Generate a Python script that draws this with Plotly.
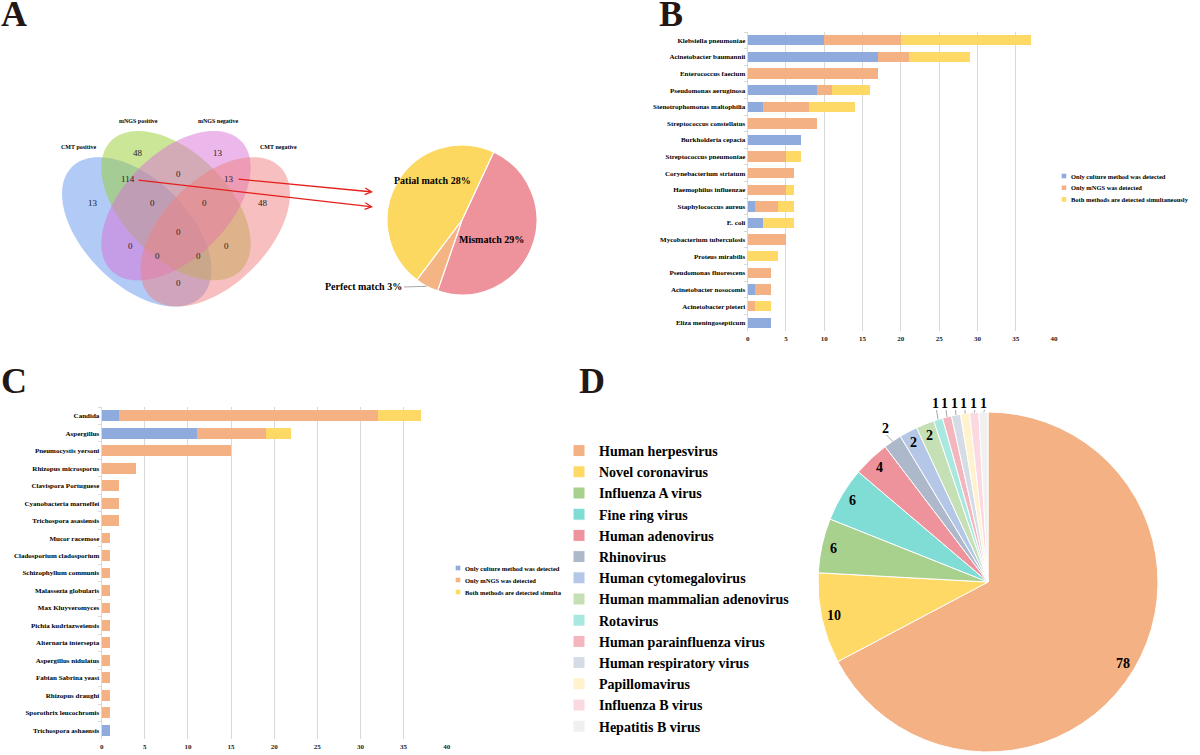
import numpy as np
import plotly.graph_objects as go

W, H = 1200, 755
SERIF = "Liberation Serif"
BLUE, ORANGE, YELLOW = "#8FAADC", "#F4B183", "#FFD966"
GRID = "#D9D9D9"
INK = "#231815"

# ---- A: venn + match pie ----
venn_sets = ["CMT positive", "mNGS positive", "mNGS negative", "CMT negative"]
venn_counts = [13, 48, 13, 48, 114, 0, 13, 0, 0, 0, 0, 0, 0, 0, 0]
match_labels = ["Mismatch", "Perfect match", "Patial match"]
match_values = [29, 3, 28]

# ---- B: bacteria ----
series_names = ["Only culture method was detected", "Only mNGS was detected",
                "Both methods are detected simultaneously"]
bac_names = ["Klebsiella pneumoniae", "Acinetobacter baumannii", "Enterococcus faecium",
             "Pseudomonas aeruginosa", "Stenotrophomonas maltophilia", "Streptococcus constellatus",
             "Burkholderia cepacia", "Streptococcus pneumoniae", "Corynebacterium striatum",
             "Haemophilus influenzae", "Staphylococcus aureus", "E. coli",
             "Mycobacterium tuberculosis", "Proteus mirabilis", "Pseudomonas fluorescens",
             "Acinetobacter nosocomis", "Acinetobacter pieteri", "Eliza meningosepticum"]
bac_culture = [10, 17, 0, 9, 2, 0, 7, 0, 0, 0, 1, 2, 0, 0, 0, 1, 0, 3]
bac_mngs = [10, 4, 17, 2, 6, 9, 0, 5, 6, 5, 3, 0, 5, 0, 3, 2, 1, 0]
bac_both = [17, 8, 0, 5, 6, 0, 0, 2, 0, 1, 2, 4, 0, 4, 0, 0, 2, 0]

# ---- C: fungi ----
fungi_legend = ["Only culture method was detected", "Only mNGS was detected",
                "Both methods are detected simulta"]
fungi_names = ["Candida", "Aspergillus", "Pneumocystis yersoni", "Rhizopus microsporus",
               "Clavispora Portuguese", "Cyanobacteria marneffei", "Trichospora asasiensis",
               "Mucor racemose", "Cladosporium cladosporium", "Schizophyllum communis",
               "Malassezia globularis", "Max Kluyveromyces", "Pichia kudriazweiensis",
               "Alternaria intersepta", "Aspergillus nidulatus", "Fabian Sabrina yeast",
               "Rhizopus draughi", "Sporothrix leucochromis", "Trichospora ashaensis"]
fungi_culture = [2, 11, 0, 0, 0, 0, 0, 0, 0, 0, 0, 0, 0, 0, 0, 0, 0, 0, 1]
fungi_mngs = [30, 8, 15, 4, 2, 2, 2, 1, 1, 1, 1, 1, 1, 1, 1, 1, 1, 1, 0]
fungi_both = [5, 3, 0, 0, 0, 0, 0, 0, 0, 0, 0, 0, 0, 0, 0, 0, 0, 0, 0]

# ---- D: viruses ----
virus_names = ["Human herpesvirus", "Novel coronavirus", "Influenza A virus", "Fine ring virus",
               "Human adenovirus", "Rhinovirus", "Human cytomegalovirus",
               "Human mammalian adenovirus", "Rotavirus", "Human parainfluenza virus",
               "Human respiratory virus", "Papillomavirus", "Influenza B virus", "Hepatitis B virus"]
virus_counts = [78, 10, 6, 6, 4, 2, 2, 2, 1, 1, 1, 1, 1, 1]
virus_colors = ["#F4B183", "#FFD966", "#A9D18E", "#7FDDD6", "#EE929C", "#ADB9CA", "#B4C7E7",
                "#C5E0B4", "#A8E8E0", "#F4B6BE", "#D6DCE5", "#FFF2CC", "#FADAE0", "#F0F0F0"]


def px(x):
    return x / W


def py(y):
    return 1 - y / H


def ellipse_path(cx, cy, a, b, ang_deg, n=120):
    t = np.linspace(0, 2 * np.pi, n)
    r = np.radians(ang_deg)
    xs = cx + a * np.cos(t) * np.cos(r) - b * np.sin(t) * np.sin(r)
    ys = cy + a * np.cos(t) * np.sin(r) + b * np.sin(t) * np.cos(r)
    return "M " + " L ".join(f"{x:.4f},{y:.4f}" for x, y in zip(xs, ys)) + " Z"


def bold(size, color="black"):
    return dict(family=SERIF, size=size, color=color, weight="bold")


def note(x, y, text, font, xanchor="center"):
    # annotation placed in page pixels (explicit anchors, "auto" shifts paper annotations)
    return dict(x=px(x), y=py(y), xref="paper", yref="paper", text=text, font=font,
                xanchor=xanchor, yanchor="middle", showarrow=False)


fig = go.Figure()

# stacked bars, B and C
for vals, col, nm in zip([bac_culture, bac_mngs, bac_both], [BLUE, ORANGE, YELLOW], series_names):
    fig.add_trace(go.Bar(y=bac_names, x=vals, orientation="h", name=nm, showlegend=False,
                         marker=dict(color=col, line=dict(width=0)), xaxis="x", yaxis="y"))
for vals, col, nm in zip([fungi_culture, fungi_mngs, fungi_both], [BLUE, ORANGE, YELLOW], fungi_legend):
    fig.add_trace(go.Bar(y=fungi_names, x=vals, orientation="h", name=nm, showlegend=False,
                         marker=dict(color=col, line=dict(width=0)), xaxis="x2", yaxis="y2"))

# pie A
A_cx, A_cy, A_r, A_rot = 462, 220, 75, 25
fig.add_trace(go.Pie(labels=match_labels, values=match_values, sort=False, direction="clockwise",
                     rotation=A_rot, textinfo="none", showlegend=False,
                     marker=dict(colors=["#EE929B", "#F4B483", "#FDD860"], line=dict(color="white", width=1.2)),
                     domain=dict(x=[px(A_cx - A_r), px(A_cx + A_r)], y=[py(A_cy + A_r), py(A_cy - A_r)])))

# pie D
D_cx, D_cy, D_r = 988, 582, 170
fig.add_trace(go.Pie(labels=virus_names, values=virus_counts, sort=False, direction="clockwise",
                     rotation=0, textinfo="none", showlegend=True,
                     marker=dict(colors=virus_colors, line=dict(color="white", width=1)),
                     domain=dict(x=[px(D_cx - D_r), px(D_cx + D_r)], y=[py(D_cy + D_r), py(D_cy - D_r)])))

axis_x = dict(range=[0, 40], dtick=5, showgrid=True, gridcolor=GRID, gridwidth=1, zeroline=True,
              zerolinecolor=GRID, zerolinewidth=1, showline=False, ticks="", ticklabelstandoff=2,
              tickfont=bold(7, "#222"), fixedrange=True)
axis_y = dict(type="category", autorange="reversed", showgrid=False, zeroline=False, showline=True,
              linecolor=GRID, ticks="outside", tickson="boundaries", ticklen=3, tickcolor=GRID,
              tickfont=bold(7), fixedrange=True)

shapes = []
annotations = []

# venn ellipses
venn_fills = ["rgba(100,149,237,0.5)", "rgba(154,205,50,0.5)", "rgba(218,112,214,0.5)", "rgba(240,128,128,0.5)"]
venn_geom = [(0.35, 0.47, -45), (0.5, 0.57, -45), (0.5, 0.57, 45), (0.65, 0.47, 45)]
for (cx, cy, ang), fc in zip(venn_geom, venn_fills):
    shapes.append(dict(type="path", xref="x3", yref="y3", path=ellipse_path(cx, cy, 0.35, 0.2, ang),
                       fillcolor=fc, line=dict(width=0)))

venn_set_pos = [(78, 147), (138, 121), (218, 121), (278, 147)]
for name, (x, y) in zip(venn_sets, venn_set_pos):
    annotations.append(note(x, y, name, bold(6)))

venn_pos = [(93, 203), (138, 153), (218, 153), (263, 203), (128, 179), (178, 174), (229, 179),
            (152, 203), (204, 203), (178, 232), (130, 246), (226, 246), (158, 256), (198, 256),
            (178, 283)]
for v, (x, y) in zip(venn_counts, venn_pos):
    annotations.append(note(x, y, str(v), dict(family=SERIF, size=9, color="#222")))

# red arrows from venn to pie
for (tx, ty), (hx, hy) in [((237, 179), (373, 192)), ((137, 180), (373, 207))]:
    annotations.append(dict(x=px(hx), y=py(hy), xref="paper", yref="paper", ax=tx - hx, ay=ty - hy,
                            text="", showarrow=True, arrowhead=5, arrowsize=1, arrowwidth=1.3,
                            arrowcolor="#E3201B", standoff=0))

# pie A labels
match_text_pos = {"Patial match": (432, 181), "Mismatch": (491, 239), "Perfect match": (363, 286)}
cum = np.cumsum([0] + match_values[:-1])
tot = sum(match_values)
for lab, val, c0 in zip(match_labels, match_values, cum):
    x, y = match_text_pos[lab]
    annotations.append(note(x, y, f"{lab} {val}%", bold(10)))
    if lab == "Perfect match":
        mid = np.radians(A_rot + (c0 + val / 2) / tot * 360)
        rx, ry = A_cx + A_r * np.sin(mid), A_cy - A_r * np.cos(mid)
        shapes.append(dict(type="line", xref="paper", yref="paper", x0=px(404), y0=py(y + 1),
                           x1=px(rx), y1=py(ry), line=dict(color="#A6A6A6", width=1)))

# pie D labels
vcum = np.cumsum([0] + virus_counts[:-1])
vtot = sum(virus_counts)
outside_pos = {5: (885, 428), 8: (935, 403), 9: (944.5, 403), 10: (954, 403), 11: (963.5, 403),
               12: (973.5, 403), 13: (983.5, 403)}
for i, (val, c0) in enumerate(zip(virus_counts, vcum)):
    mid = np.radians((c0 + val / 2) / vtot * 360)
    if i in outside_pos:
        x, y = outside_pos[i]
        rx, ry = D_cx + D_r * np.sin(mid), D_cy - D_r * np.cos(mid)
        shapes.append(dict(type="line", xref="paper", yref="paper", x0=px(x + 1.5), y0=py(y + 7),
                           x1=px(rx), y1=py(ry), line=dict(color="#A6A6A6", width=1)))
    else:
        x, y = D_cx + 158 * np.sin(mid), D_cy - 158 * np.cos(mid)
    annotations.append(note(x, y, str(val), bold(14)))

# manual legends for B and C (tight row spacing)
for names, (lx, ly, step) in [(series_names, (1064, 176, 11.7)), (fungi_legend, (458, 568, 12))]:
    for k, (nm, col) in enumerate(zip(names, [BLUE, ORANGE, YELLOW])):
        yy = ly + k * step
        shapes.append(dict(type="rect", xref="paper", yref="paper", x0=px(lx - 2.3), x1=px(lx + 2.3),
                           y0=py(yy + 2.3), y1=py(yy - 2.3), fillcolor=col, line=dict(width=0)))
        annotations.append(note(lx + 5, yy, nm, bold(6.5), xanchor="left"))

# panel letters
for letter, (x, y) in zip("ABCD", [(14, 14), (671, 14), (14, 381), (592, 381)]):
    annotations.append(note(x, y, letter, bold(36, INK)))

fig.update_layout(
    width=W, height=H, template="none",
    margin=dict(l=0, r=0, t=0, b=0),
    paper_bgcolor="white", plot_bgcolor="white",
    barmode="stack", bargap=0.38,
    xaxis=dict(axis_x, domain=[px(747.7), px(1054)], anchor="y"),
    yaxis=dict(axis_y, domain=[py(331), py(32)], anchor="x"),
    xaxis2=dict(axis_x, domain=[px(101.7), px(446.7)], anchor="y2"),
    yaxis2=dict(axis_y, domain=[py(739), py(407)], anchor="x2"),
    xaxis3=dict(domain=[px(45), px(307)], range=[0, 1], visible=False, anchor="y3", fixedrange=True),
    yaxis3=dict(domain=[py(355), py(93)], range=[0, 1], visible=False, anchor="x3", fixedrange=True),
    legend=dict(x=px(559), y=py(435), xanchor="left", yanchor="top", font=bold(14),
                bgcolor="rgba(0,0,0,0)", borderwidth=0, traceorder="normal"),
    shapes=shapes,
    annotations=annotations,
)

# drop the browser's default page margin so the figure fills the window exactly
fig.write_html("out.html", config={"displayModeBar": False},
               post_script="document.body.style.margin='0px';")
